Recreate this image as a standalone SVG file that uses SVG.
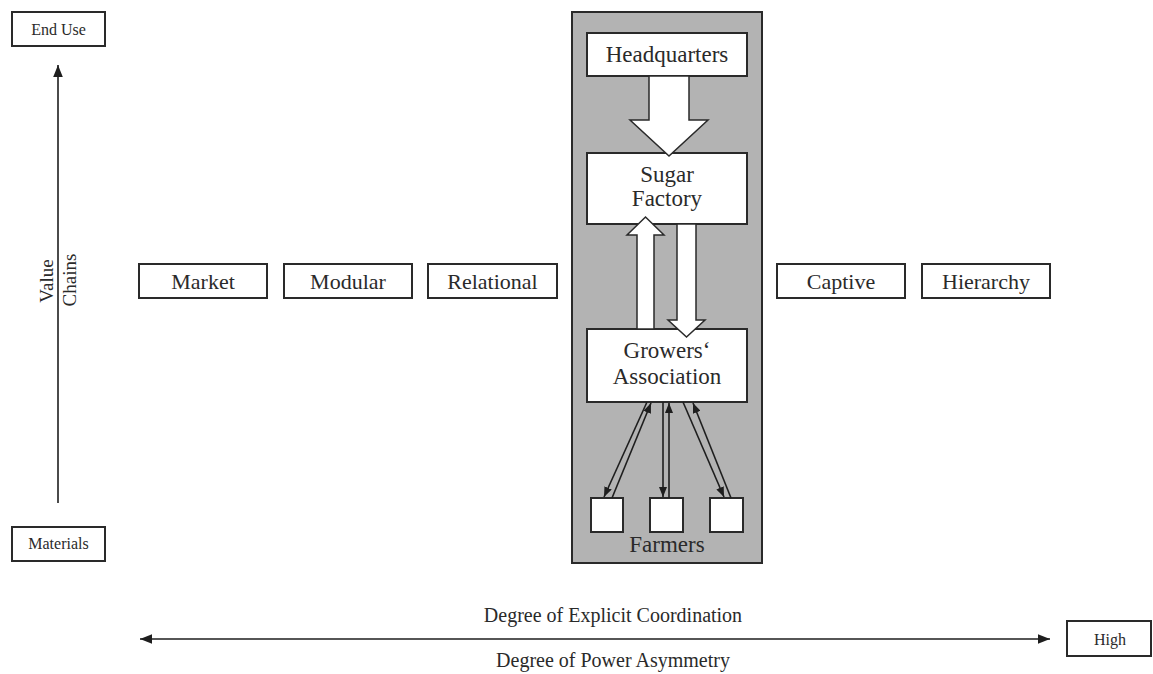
<svg xmlns="http://www.w3.org/2000/svg" width="1153" height="674" viewBox="0 0 1153 674">
<defs>
<marker id="ah" viewBox="0 0 10 8" refX="10" refY="4" markerWidth="12" markerHeight="10" markerUnits="userSpaceOnUse" orient="auto-start-reverse">
<path d="M0,0 L10,4 L0,8 z" fill="#1e1e1e"/>
</marker>
<marker id="sh" viewBox="0 0 10 8" refX="10" refY="4" markerWidth="10" markerHeight="8" markerUnits="userSpaceOnUse" orient="auto">
<path d="M0,0 L10,4 L0,8 z" fill="#1e1e1e"/>
</marker>
</defs>
<style>
text{font-family:"Liberation Serif","Times New Roman",serif;fill:#2a2a2a;text-anchor:middle}
.box{fill:#fff;stroke:#2a2a2a;stroke-width:2}
.big{fill:#fff;stroke:#2a2a2a;stroke-width:1.5}
.ln{stroke:#1e1e1e;stroke-width:1.6;fill:none}
.s17{font-size:16px}
.s19{font-size:19px}
.s20{font-size:20px}
.s22{font-size:22px}
.s23{font-size:23px}
</style>
<rect width="1153" height="674" fill="#fff"/>

<g id="panel">
<rect x="572" y="12" width="190" height="551" fill="#b3b3b3" stroke="#2a2a2a" stroke-width="2"/>
</g>

<g id="end-use"><rect class="box" x="12" y="12" width="93" height="34"/><text class="s17" x="58.5" y="35">End Use</text></g>
<g id="materials"><rect class="box" x="12" y="527" width="93" height="34"/><text class="s17" x="58.5" y="549">Materials</text></g>
<g id="value-chains"><text class="s19" transform="translate(53,281) rotate(-90)">Value</text><text class="s19" transform="translate(76,280) rotate(-90)">Chains</text></g>

<g id="market"><rect class="box" x="139" y="264" width="128" height="34"/><text class="s22" x="203" y="289">Market</text></g>
<g id="modular"><rect class="box" x="284" y="264" width="128" height="34"/><text class="s22" x="348" y="289">Modular</text></g>
<g id="relational"><rect class="box" x="428" y="264" width="129" height="34"/><text class="s22" x="492.5" y="289">Relational</text></g>
<g id="captive"><rect class="box" x="777" y="264" width="128" height="34"/><text class="s22" x="841" y="289">Captive</text></g>
<g id="hierarchy"><rect class="box" x="922" y="264" width="128" height="34"/><text class="s22" x="986" y="289">Hierarchy</text></g>

<g id="headquarters"><rect class="box" x="587" y="33" width="160" height="43"/><text class="s23" x="667" y="62">Headquarters</text></g>
<g id="sugar-factory"><rect class="box" x="587" y="153" width="160" height="71"/><text class="s23" x="667" y="182">Sugar</text><text class="s23" x="667" y="206">Factory</text></g>
<g id="growers-association"><rect class="box" x="587" y="329" width="160" height="73"/><text class="s23" x="667" y="358">Growers‘</text><text class="s23" x="667" y="384">Association</text></g>

<g id="farmers">
<rect class="box" x="591" y="498" width="32" height="34"/>
<rect class="box" x="650" y="498" width="33" height="34"/>
<rect class="box" x="710" y="498" width="33" height="34"/>
<text class="s23" x="667" y="552">Farmers</text>
</g>

<g id="high"><rect class="box" x="1067" y="621" width="84" height="35"/><text class="s17" x="1110" y="645">High</text></g>

<g id="axis-labels">
<text class="s20" x="613" y="622">Degree of Explicit Coordination</text>
<text class="s20" x="613" y="667">Degree of Power Asymmetry</text>
</g>

<g id="connectors">
<line class="ln" x1="58" y1="503" x2="58" y2="65" stroke-width="2" marker-end="url(#ah)"/>
<line class="ln" x1="140" y1="639" x2="1050" y2="639" stroke-width="2.2" marker-start="url(#ah)" marker-end="url(#ah)"/>
<polygon class="big" points="649,76 689,76 689,120 708,120 669,156 630,120 649,120"/>
<polygon class="big" points="637,329 637,235 627,235 645.5,217 664,235 654,235 654,329"/>
<polygon class="big" points="677,224 696,224 696,320 705,320 686.5,337 668,320 677,320"/>
<line class="ln" x1="647" y1="402" x2="604" y2="497" marker-end="url(#sh)"/>
<line class="ln" x1="612" y1="498" x2="651" y2="403" marker-end="url(#sh)"/>
<line class="ln" x1="663" y1="402" x2="663" y2="497" marker-end="url(#sh)"/>
<line class="ln" x1="669" y1="498" x2="669" y2="403" marker-end="url(#sh)"/>
<line class="ln" x1="683" y1="402" x2="724" y2="497" marker-end="url(#sh)"/>
<line class="ln" x1="731" y1="498" x2="693" y2="403" marker-end="url(#sh)"/>
</g>
</svg>
